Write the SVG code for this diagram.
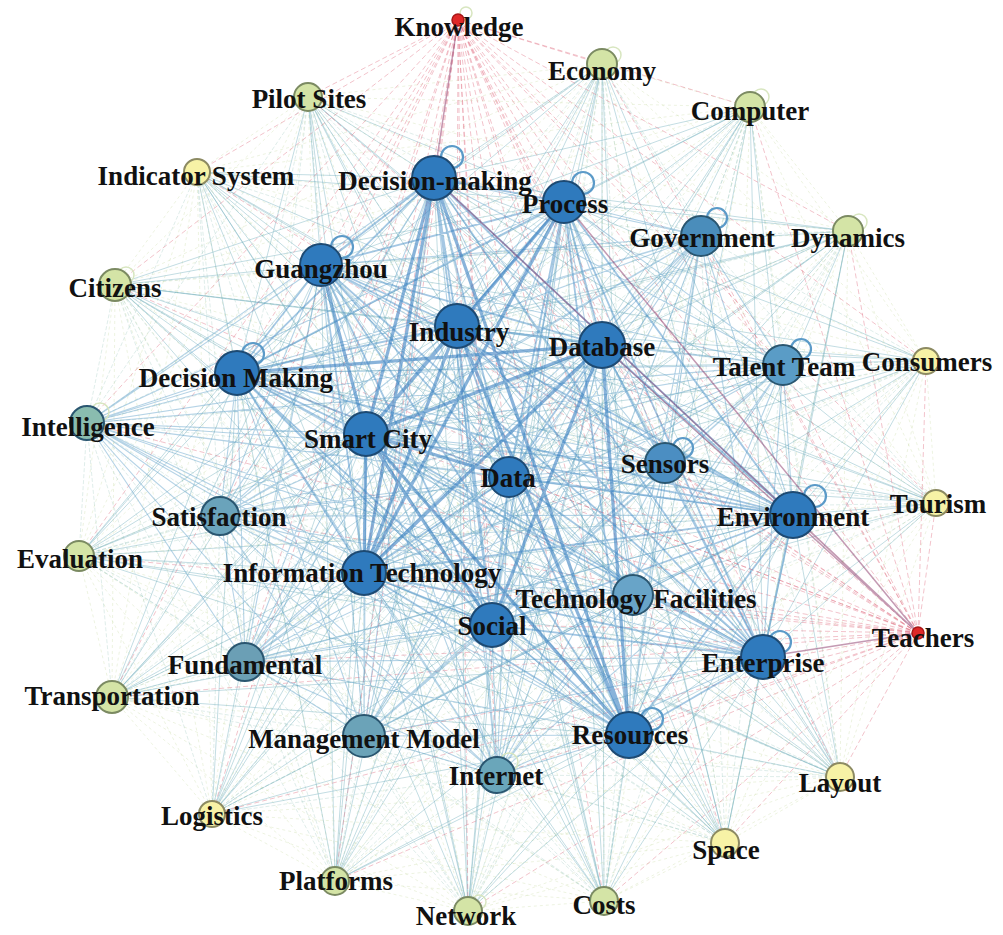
<svg xmlns="http://www.w3.org/2000/svg" width="1003" height="935" viewBox="0 0 1003 935">
<style>
.e{fill:none}
.heavy{stroke:#3a80c2;stroke-width:3.2;opacity:.6}
.strong{stroke:#4a90c8;stroke-width:1.8;opacity:.5}
.med{stroke:#5a9ec8;stroke-width:1.1;opacity:.45}
.light{stroke:#6aaab8;stroke-width:.8;opacity:.5}
.faint{stroke:#86bcb0;stroke-width:.6;opacity:.45;stroke-dasharray:4 2}
.pale{stroke:#c4d89a;stroke-width:.6;opacity:.5;stroke-dasharray:3 3}
.red{stroke:#e06f82;stroke-width:.7;opacity:.6;stroke-dasharray:5 3}
.purple{stroke:#8a3668;stroke-width:1.5;opacity:.5}
.loop{fill:none;stroke:#5b9ac8;stroke-width:2.2}
.loopf{fill:none;stroke:#d8e6c0;stroke-width:1.5}
.nA{fill:#2f7abd;stroke:#1d4a73;stroke-width:2}
.nB{stroke:#2a5670;stroke-width:2}
.nC{fill:#d4e4a6;stroke:#7b8a62;stroke-width:2}
.nD{fill:#f7f2a6;stroke:#8c8a62;stroke-width:2}
.nR{fill:#e02828;stroke:#a81818;stroke-width:1.5}
text{font-family:"Liberation Serif","Times New Roman",serif;font-weight:bold;font-size:27px;fill:#111;text-anchor:middle}
</style>
<rect width="1003" height="935" fill="#ffffff"/>
<g id="connectors" class="e">
<path class="pale" d="M602 64L308 97M602 64L750 107M602 64L197 172M602 64L848 231M602 64L115 285M602 64L926 361M602 64L936 503M602 64L79 556M602 64L112 697M602 64L840 777M602 64L212 814M602 64L725 843M602 64L335 881M602 64L468 911M602 64L604 901M308 97L750 107M308 97L197 172M308 97L848 231M308 97L115 285M308 97L926 361M308 97L936 503M308 97L79 556M308 97L112 697M308 97L840 777M308 97L212 814M308 97L725 843M308 97L335 881M308 97L468 911M308 97L604 901M750 107L197 172M750 107L848 231M750 107L115 285M750 107L926 361M750 107L936 503M750 107L79 556M750 107L112 697M750 107L840 777M750 107L212 814M750 107L725 843M750 107L335 881M750 107L468 911M750 107L604 901M197 172L848 231M197 172L115 285M197 172L926 361M197 172L936 503M197 172L79 556M197 172L112 697M197 172L840 777M197 172L212 814M197 172L725 843M197 172L335 881M197 172L468 911M197 172L604 901M848 231L115 285M848 231L926 361M848 231L936 503M848 231L79 556M848 231L112 697M848 231L840 777M848 231L212 814M848 231L725 843M848 231L335 881M848 231L468 911M848 231L604 901M115 285L926 361M115 285L936 503M115 285L79 556M115 285L112 697M115 285L840 777M115 285L212 814M115 285L725 843M115 285L335 881M115 285L468 911M115 285L604 901M926 361L936 503M926 361L79 556M926 361L112 697M926 361L840 777M926 361L212 814M926 361L725 843M926 361L335 881M926 361L468 911M926 361L604 901M936 503L79 556M936 503L112 697M936 503L840 777M936 503L212 814M936 503L725 843M936 503L335 881M936 503L468 911M936 503L604 901M79 556L112 697M79 556L840 777M79 556L212 814M79 556L725 843M79 556L335 881M79 556L468 911M79 556L604 901M112 697L840 777M112 697L212 814M112 697L725 843M112 697L335 881M112 697L468 911M112 697L604 901M840 777L212 814M840 777L725 843M840 777L335 881M840 777L468 911M840 777L604 901M212 814L725 843M212 814L335 881M212 814L468 911M212 814L604 901M725 843L335 881M725 843L468 911M725 843L604 901M335 881L468 911M335 881L604 901M468 911L604 901"/>
<path class="faint" d="M602 64L701 236M602 64L783 365M602 64L665 463M602 64L633 595M602 64L220 516M602 64L245 662M602 64L364 736M602 64L497 775M602 64L87 423M308 97L701 236M308 97L783 365M308 97L665 463M308 97L633 595M308 97L220 516M308 97L245 662M308 97L364 736M308 97L497 775M308 97L87 423M750 107L701 236M750 107L783 365M750 107L665 463M750 107L633 595M750 107L220 516M750 107L245 662M750 107L364 736M750 107L497 775M750 107L87 423M197 172L701 236M197 172L783 365M197 172L665 463M197 172L633 595M197 172L220 516M197 172L245 662M197 172L364 736M197 172L497 775M197 172L87 423M848 231L701 236M848 231L783 365M848 231L665 463M848 231L633 595M848 231L220 516M848 231L245 662M848 231L364 736M848 231L497 775M848 231L87 423M115 285L701 236M115 285L783 365M115 285L665 463M115 285L633 595M115 285L220 516M115 285L245 662M115 285L364 736M115 285L497 775M115 285L87 423M926 361L701 236M926 361L783 365M926 361L665 463M926 361L633 595M926 361L220 516M926 361L245 662M926 361L364 736M926 361L497 775M926 361L87 423M936 503L701 236M936 503L783 365M936 503L665 463M936 503L633 595M936 503L220 516M936 503L245 662M936 503L364 736M936 503L497 775M936 503L87 423M79 556L701 236M79 556L783 365M79 556L665 463M79 556L633 595M79 556L220 516M79 556L245 662M79 556L364 736M79 556L497 775M79 556L87 423M112 697L701 236M112 697L783 365M112 697L665 463M112 697L633 595M112 697L220 516M112 697L245 662M112 697L364 736M112 697L497 775M112 697L87 423M840 777L701 236M840 777L783 365M840 777L665 463M840 777L633 595M840 777L220 516M840 777L245 662M840 777L364 736M840 777L497 775M840 777L87 423M212 814L701 236M212 814L783 365M212 814L665 463M212 814L633 595M212 814L220 516M212 814L245 662M212 814L364 736M212 814L497 775M212 814L87 423M725 843L701 236M725 843L783 365M725 843L665 463M725 843L633 595M725 843L220 516M725 843L245 662M725 843L364 736M725 843L497 775M725 843L87 423M335 881L701 236M335 881L783 365M335 881L665 463M335 881L633 595M335 881L220 516M335 881L245 662M335 881L364 736M335 881L497 775M335 881L87 423M468 911L701 236M468 911L783 365M468 911L665 463M468 911L633 595M468 911L220 516M468 911L245 662M468 911L364 736M468 911L497 775M468 911L87 423M604 901L701 236M604 901L783 365M604 901L665 463M604 901L633 595M604 901L220 516M604 901L245 662M604 901L364 736M604 901L497 775M604 901L87 423"/>
<path class="light" d="M602 64L434 178M602 64L564 202M602 64L321 265M602 64L457 326M602 64L602 345M602 64L237 373M602 64L366 434M602 64L509 477M602 64L793 515M602 64L364 573M602 64L492 625M602 64L763 657M602 64L629 735M308 97L434 178M308 97L564 202M308 97L321 265M308 97L457 326M308 97L602 345M308 97L237 373M308 97L366 434M308 97L509 477M308 97L793 515M308 97L364 573M308 97L492 625M308 97L763 657M308 97L629 735M750 107L434 178M750 107L564 202M750 107L321 265M750 107L457 326M750 107L602 345M750 107L237 373M750 107L366 434M750 107L509 477M750 107L793 515M750 107L364 573M750 107L492 625M750 107L763 657M750 107L629 735M197 172L434 178M197 172L564 202M197 172L321 265M197 172L457 326M197 172L602 345M197 172L237 373M197 172L366 434M197 172L509 477M197 172L793 515M197 172L364 573M197 172L492 625M197 172L763 657M197 172L629 735M848 231L434 178M848 231L564 202M848 231L321 265M848 231L457 326M848 231L602 345M848 231L237 373M848 231L366 434M848 231L509 477M848 231L793 515M848 231L364 573M848 231L492 625M848 231L763 657M848 231L629 735M115 285L434 178M115 285L564 202M115 285L321 265M115 285L457 326M115 285L602 345M115 285L237 373M115 285L366 434M115 285L509 477M115 285L793 515M115 285L364 573M115 285L492 625M115 285L763 657M115 285L629 735M926 361L434 178M926 361L564 202M926 361L321 265M926 361L457 326M926 361L602 345M926 361L237 373M926 361L366 434M926 361L509 477M926 361L793 515M926 361L364 573M926 361L492 625M926 361L763 657M926 361L629 735M936 503L434 178M936 503L564 202M936 503L321 265M936 503L457 326M936 503L602 345M936 503L237 373M936 503L366 434M936 503L509 477M936 503L793 515M936 503L364 573M936 503L492 625M936 503L763 657M936 503L629 735M79 556L434 178M79 556L564 202M79 556L321 265M79 556L457 326M79 556L602 345M79 556L237 373M79 556L366 434M79 556L509 477M79 556L793 515M79 556L364 573M79 556L492 625M79 556L763 657M79 556L629 735M112 697L434 178M112 697L564 202M112 697L321 265M112 697L457 326M112 697L602 345M112 697L237 373M112 697L366 434M112 697L509 477M112 697L793 515M112 697L364 573M112 697L492 625M112 697L763 657M112 697L629 735M840 777L434 178M840 777L564 202M840 777L321 265M840 777L457 326M840 777L602 345M840 777L237 373M840 777L366 434M840 777L509 477M840 777L793 515M840 777L364 573M840 777L492 625M840 777L763 657M840 777L629 735M212 814L434 178M212 814L564 202M212 814L321 265M212 814L457 326M212 814L602 345M212 814L237 373M212 814L366 434M212 814L509 477M212 814L793 515M212 814L364 573M212 814L492 625M212 814L763 657M212 814L629 735M725 843L434 178M725 843L564 202M725 843L321 265M725 843L457 326M725 843L602 345M725 843L237 373M725 843L366 434M725 843L509 477M725 843L793 515M725 843L364 573M725 843L492 625M725 843L763 657M725 843L629 735M335 881L434 178M335 881L564 202M335 881L321 265M335 881L457 326M335 881L602 345M335 881L237 373M335 881L366 434M335 881L509 477M335 881L793 515M335 881L364 573M335 881L492 625M335 881L763 657M335 881L629 735M468 911L434 178M468 911L564 202M468 911L321 265M468 911L457 326M468 911L602 345M468 911L237 373M468 911L366 434M468 911L509 477M468 911L793 515M468 911L364 573M468 911L492 625M468 911L763 657M468 911L629 735M604 901L434 178M604 901L564 202M604 901L321 265M604 901L457 326M604 901L602 345M604 901L237 373M604 901L366 434M604 901L509 477M604 901L793 515M604 901L364 573M604 901L492 625M604 901L763 657M604 901L629 735"/>
<path class="red" d="M458 20L602 64M458 20L308 97M458 20L750 107M458 20L197 172M458 20L848 231M458 20L115 285M458 20L926 361M458 20L936 503M458 20L79 556M458 20L112 697M458 20L840 777M458 20L212 814M458 20L725 843M458 20L335 881M458 20L468 911M458 20L604 901M458 20L564 202M458 20L321 265M458 20L457 326M458 20L602 345M458 20L237 373M458 20L366 434M458 20L509 477M458 20L793 515M458 20L364 573M458 20L492 625M458 20L763 657M458 20L629 735M458 20L701 236M458 20L783 365M458 20L665 463M458 20L633 595M458 20L220 516M458 20L245 662M458 20L364 736M458 20L497 775M458 20L87 423M458 20L918 633M918 633L602 64M918 633L308 97M918 633L750 107M918 633L197 172M918 633L848 231M918 633L115 285M918 633L926 361M918 633L936 503M918 633L79 556M918 633L112 697M918 633L840 777M918 633L212 814M918 633L725 843M918 633L335 881M918 633L468 911M918 633L604 901M918 633L321 265M918 633L457 326M918 633L237 373M918 633L366 434M918 633L509 477M918 633L364 573M918 633L492 625M918 633L629 735M918 633L701 236M918 633L783 365M918 633L665 463M918 633L633 595M918 633L220 516M918 633L245 662M918 633L364 736M918 633L497 775M918 633L87 423"/>
<path class="med" d="M434 178L701 236M434 178L783 365M434 178L665 463M434 178L633 595M434 178L220 516M434 178L245 662M434 178L364 736M434 178L497 775M434 178L87 423M564 202L701 236M564 202L783 365M564 202L665 463M564 202L633 595M564 202L220 516M564 202L245 662M564 202L364 736M564 202L497 775M564 202L87 423M321 265L701 236M321 265L783 365M321 265L665 463M321 265L633 595M321 265L220 516M321 265L245 662M321 265L364 736M321 265L497 775M321 265L87 423M457 326L701 236M457 326L783 365M457 326L665 463M457 326L633 595M457 326L220 516M457 326L245 662M457 326L364 736M457 326L497 775M457 326L87 423M602 345L701 236M602 345L783 365M602 345L665 463M602 345L633 595M602 345L220 516M602 345L245 662M602 345L364 736M602 345L497 775M602 345L87 423M237 373L701 236M237 373L783 365M237 373L665 463M237 373L633 595M237 373L220 516M237 373L245 662M237 373L364 736M237 373L497 775M237 373L87 423M366 434L701 236M366 434L783 365M366 434L665 463M366 434L633 595M366 434L220 516M366 434L245 662M366 434L364 736M366 434L497 775M366 434L87 423M509 477L701 236M509 477L783 365M509 477L665 463M509 477L633 595M509 477L220 516M509 477L245 662M509 477L364 736M509 477L497 775M509 477L87 423M793 515L701 236M793 515L783 365M793 515L665 463M793 515L633 595M793 515L220 516M793 515L245 662M793 515L364 736M793 515L497 775M793 515L87 423M364 573L701 236M364 573L783 365M364 573L665 463M364 573L633 595M364 573L220 516M364 573L245 662M364 573L364 736M364 573L497 775M364 573L87 423M492 625L701 236M492 625L783 365M492 625L665 463M492 625L633 595M492 625L220 516M492 625L245 662M492 625L364 736M492 625L497 775M492 625L87 423M763 657L701 236M763 657L783 365M763 657L665 463M763 657L633 595M763 657L220 516M763 657L245 662M763 657L364 736M763 657L497 775M763 657L87 423M629 735L701 236M629 735L783 365M629 735L665 463M629 735L633 595M629 735L220 516M629 735L245 662M629 735L364 736M629 735L497 775M629 735L87 423M701 236L783 365M701 236L665 463M701 236L633 595M701 236L220 516M701 236L245 662M701 236L364 736M701 236L497 775M701 236L87 423M783 365L665 463M783 365L633 595M783 365L220 516M783 365L245 662M783 365L364 736M783 365L497 775M783 365L87 423M665 463L633 595M665 463L220 516M665 463L245 662M665 463L364 736M665 463L497 775M665 463L87 423M633 595L220 516M633 595L245 662M633 595L364 736M633 595L497 775M633 595L87 423M220 516L245 662M220 516L364 736M220 516L497 775M220 516L87 423M245 662L364 736M245 662L497 775M245 662L87 423M364 736L497 775M364 736L87 423M497 775L87 423"/>
<path class="strong" d="M434 178L564 202M434 178L321 265M434 178L457 326M434 178L602 345M434 178L237 373M434 178L509 477M434 178L793 515M434 178L492 625M434 178L763 657M564 202L321 265M564 202L457 326M564 202L602 345M564 202L237 373M564 202L509 477M564 202L793 515M564 202L492 625M564 202L763 657M564 202L629 735M321 265L457 326M321 265L602 345M321 265L237 373M321 265L509 477M321 265L793 515M321 265L364 573M321 265L492 625M321 265L763 657M321 265L629 735M457 326L602 345M457 326L237 373M457 326L509 477M457 326L793 515M457 326L492 625M457 326L763 657M602 345L509 477M602 345L793 515M602 345L763 657M237 373L366 434M237 373L509 477M237 373L793 515M237 373L364 573M237 373L492 625M237 373L763 657M237 373L629 735M366 434L793 515M366 434L763 657M509 477L793 515M509 477L364 573M509 477L492 625M509 477L763 657M509 477L629 735M793 515L364 573M793 515L492 625M793 515L763 657M793 515L629 735M364 573L492 625M364 573L763 657M364 573L629 735M492 625L763 657M492 625L629 735M763 657L629 735"/>
<path class="heavy" d="M434 178L366 434M434 178L364 573M434 178L629 735M457 326L366 434M457 326L364 573M457 326L629 735M602 345L366 434M602 345L364 573M602 345L629 735M602 345L492 625M366 434L364 573M366 434L629 735M366 434L492 625M366 434L509 477M321 265L366 434M564 202L366 434M564 202L364 573M237 373L602 345"/>
<path class="purple" d="M458 20L434 178M434 178L918 633M564 202L918 633M602 345L918 633M793 515L918 633M763 657L918 633"/>
</g>
<g id="self-loops">
<circle class="loop" cx="452" cy="157" r="11"/>
<circle class="loop" cx="583" cy="183" r="11"/>
<circle class="loop" cx="717" cy="218" r="10"/>
<circle class="loop" cx="342" cy="247" r="11"/>
<circle class="loop" cx="253" cy="354" r="11"/>
<circle class="loop" cx="801" cy="349" r="10"/>
<circle class="loop" cx="683" cy="448" r="10"/>
<circle class="loop" cx="815" cy="496" r="11"/>
<circle class="loop" cx="780" cy="642" r="11"/>
<circle class="loop" cx="652" cy="719" r="11"/>
<circle class="loopf" cx="466" cy="13" r="6"/>
<circle class="loopf" cx="613" cy="55" r="8"/>
<circle class="loopf" cx="761" cy="97" r="8"/>
<circle class="loopf" cx="859" cy="222" r="8"/>
<circle class="loopf" cx="126" cy="275" r="8"/>
<circle class="loopf" cx="100" cy="412" r="9"/>
<circle class="loopf" cx="509" cy="762" r="9"/>
<circle class="loopf" cx="479" cy="902" r="7"/>
</g>
<g id="node-knowledge"><circle class="nR" cx="458" cy="20" r="6"/><text x="459" y="36">Knowledge</text></g>
<g id="node-economy"><circle class="nC" cx="602" cy="64" r="15"/><text x="602" y="80">Economy</text></g>
<g id="node-pilot-sites"><circle class="nC" cx="308" cy="97" r="14"/><text x="309" y="108">Pilot Sites</text></g>
<g id="node-computer"><circle class="nC" cx="750" cy="107" r="15"/><text x="750" y="120">Computer</text></g>
<g id="node-indicator-system"><circle class="nD" cx="197" cy="172" r="13"/><text x="196" y="185">Indicator System</text></g>
<g id="node-decision-making-1"><circle class="nA" cx="434" cy="178" r="22"/><text x="435" y="190">Decision-making</text></g>
<g id="node-process"><circle class="nA" cx="564" cy="202" r="21"/><text x="565" y="213">Process</text></g>
<g id="node-government"><circle class="nB" fill="#4a8dbb" cx="701" cy="236" r="20"/><text x="702" y="247">Government</text></g>
<g id="node-dynamics"><circle class="nC" cx="848" cy="231" r="15"/><text x="848" y="247">Dynamics</text></g>
<g id="node-guangzhou"><circle class="nA" cx="321" cy="265" r="21"/><text x="321" y="278">Guangzhou</text></g>
<g id="node-citizens"><circle class="nC" fill="#c8dcaa" cx="115" cy="285" r="16"/><text x="115" y="297">Citizens</text></g>
<g id="node-industry"><circle class="nA" cx="457" cy="326" r="22"/><text x="459" y="341">Industry</text></g>
<g id="node-database"><circle class="nA" cx="602" cy="345" r="23"/><text x="602" y="356">Database</text></g>
<g id="node-talent-team"><circle class="nB" fill="#5a9cc6" cx="783" cy="365" r="20"/><text x="784" y="376">Talent Team</text></g>
<g id="node-consumers"><circle class="nD" cx="926" cy="361" r="13"/><text x="927" y="371">Consumers</text></g>
<g id="node-decision-making-2"><circle class="nA" cx="237" cy="373" r="22"/><text x="236" y="387">Decision Making</text></g>
<g id="node-intelligence"><circle class="nB" fill="#8abcaf" cx="87" cy="423" r="17"/><text x="88" y="436">Intelligence</text></g>
<g id="node-smart-city"><circle class="nA" cx="366" cy="434" r="22"/><text x="368" y="448">Smart City</text></g>
<g id="node-sensors"><circle class="nB" fill="#4b8ec2" cx="665" cy="463" r="20"/><text x="665" y="473">Sensors</text></g>
<g id="node-data"><circle class="nA" cx="509" cy="477" r="20"/><text x="508" y="487">Data</text></g>
<g id="node-environment"><circle class="nA" cx="793" cy="515" r="23"/><text x="793" y="526">Environment</text></g>
<g id="node-tourism"><circle class="nD" cx="936" cy="503" r="13"/><text x="938" y="513">Tourism</text></g>
<g id="node-satisfaction"><circle class="nB" fill="#6aa3bb" cx="220" cy="516" r="19"/><text x="219" y="526">Satisfaction</text></g>
<g id="node-evaluation"><circle class="nC" fill="#bcd6aa" cx="79" cy="556" r="15"/><text x="80" y="568">Evaluation</text></g>
<g id="node-information-technology"><circle class="nA" cx="364" cy="573" r="22"/><text x="362" y="582">Information Technology</text></g>
<g id="node-technology-facilities"><circle class="nB" fill="#68a4c8" cx="633" cy="595" r="20"/><text x="636" y="608">Technology Facilities</text></g>
<g id="node-social"><circle class="nA" cx="492" cy="625" r="22"/><text x="492" y="635">Social</text></g>
<g id="node-teachers"><circle class="nR" cx="918" cy="633" r="6"/><text x="923" y="647">Teachers</text></g>
<g id="node-enterprise"><circle class="nA" cx="763" cy="657" r="22"/><text x="763" y="672">Enterprise</text></g>
<g id="node-fundamental"><circle class="nB" fill="#6b9fb5" cx="245" cy="662" r="19"/><text x="245" y="674">Fundamental</text></g>
<g id="node-transportation"><circle class="nC" fill="#c0d9a6" cx="112" cy="697" r="16"/><text x="112" y="705">Transportation</text></g>
<g id="node-management-model"><circle class="nB" fill="#6ba3b8" cx="364" cy="736" r="21"/><text x="364" y="748">Management Model</text></g>
<g id="node-resources"><circle class="nA" cx="629" cy="735" r="23"/><text x="630" y="744">Resources</text></g>
<g id="node-internet"><circle class="nB" fill="#6aa6ba" cx="497" cy="775" r="18"/><text x="496" y="785">Internet</text></g>
<g id="node-layout"><circle class="nD" cx="840" cy="777" r="14"/><text x="840" y="792">Layout</text></g>
<g id="node-logistics"><circle class="nD" cx="212" cy="814" r="13"/><text x="212" y="825">Logistics</text></g>
<g id="node-space"><circle class="nD" cx="725" cy="843" r="14"/><text x="726" y="859">Space</text></g>
<g id="node-platforms"><circle class="nC" cx="335" cy="881" r="14"/><text x="336" y="890">Platforms</text></g>
<g id="node-network"><circle class="nC" fill="#c4dcab" cx="468" cy="911" r="14"/><text x="466" y="925">Network</text></g>
<g id="node-costs"><circle class="nC" fill="#d8e4a6" cx="604" cy="901" r="14"/><text x="604" y="914">Costs</text></g>
</svg>
